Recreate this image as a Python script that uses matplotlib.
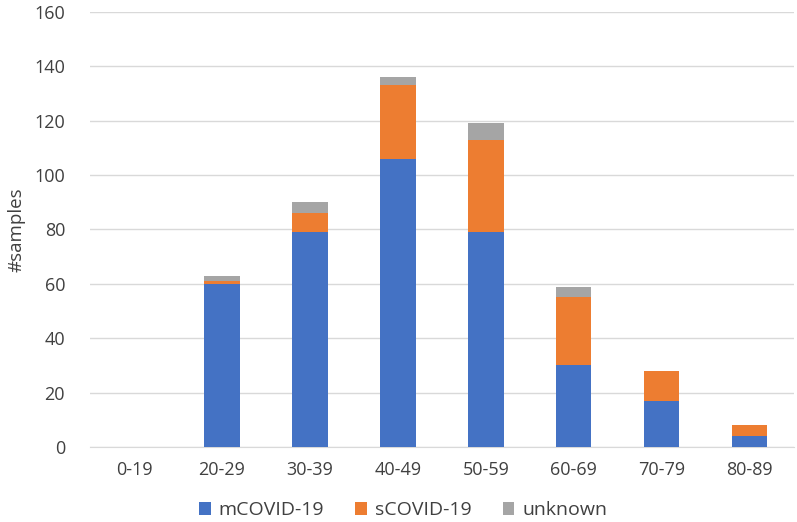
import numpy as np
import matplotlib
matplotlib.use("Agg")
import matplotlib.pyplot as plt

plt.rcParams['font.family'] = ['Open Sans', 'DejaVu Sans']

age_groups = ["0-19", "20-29", "30-39", "40-49", "50-59", "60-69", "70-79", "80-89"]
mcovid = [0, 60, 79, 106, 79, 30, 17, 4]
scovid = [0, 1, 7, 27, 34, 25, 11, 4]
unknown = [0, 2, 4, 3, 6, 4, 0, 0]

colors = {"mCOVID-19": "#4472C4", "sCOVID-19": "#ED7D31", "unknown": "#A5A5A5"}
text_color = "#404040"

fig = plt.figure(figsize=(7.97, 5.22), dpi=100)
ax = fig.add_axes([0.113, 0.1437, 0.883, 0.8333])

x = np.arange(len(age_groups))
m = np.array(mcovid)
s = np.array(scovid)
u = np.array(unknown)
w = 0.4
ax.bar(x, m, w, color=colors["mCOVID-19"], label="mCOVID-19", zorder=3)
ax.bar(x, s, w, bottom=m, color=colors["sCOVID-19"], label="sCOVID-19", zorder=3)
ax.bar(x, u, w, bottom=m + s, color=colors["unknown"], label="unknown", zorder=3)

ax.set_xlim(-0.5, len(age_groups) - 0.5)
ax.set_ylim(0, 160)
ax.set_yticks(range(0, 161, 20))
ax.set_xticks(x)
ax.set_xticklabels(age_groups)
ax.yaxis.grid(True, color="#D9D9D9", linewidth=1, zorder=0)
for sp in ["top", "right", "left"]:
    ax.spines[sp].set_visible(False)
ax.spines["bottom"].set_color("#D9D9D9")
ax.tick_params(axis="both", length=0, colors=text_color, labelsize=13)
ax.tick_params(axis="y", pad=18)
ax.tick_params(axis="x", pad=10)
ax.set_ylabel("#samples", color=text_color, fontsize=13.5, labelpad=6)

ax.legend(loc="upper center", bbox_to_anchor=(0.445, -0.098), ncol=3, frameon=False,
          fontsize=14, labelcolor=text_color, handlelength=0.6, handleheight=0.6,
          columnspacing=1.6, handletextpad=0.4, borderpad=0.1)

fig.savefig("out.png", dpi=100)
